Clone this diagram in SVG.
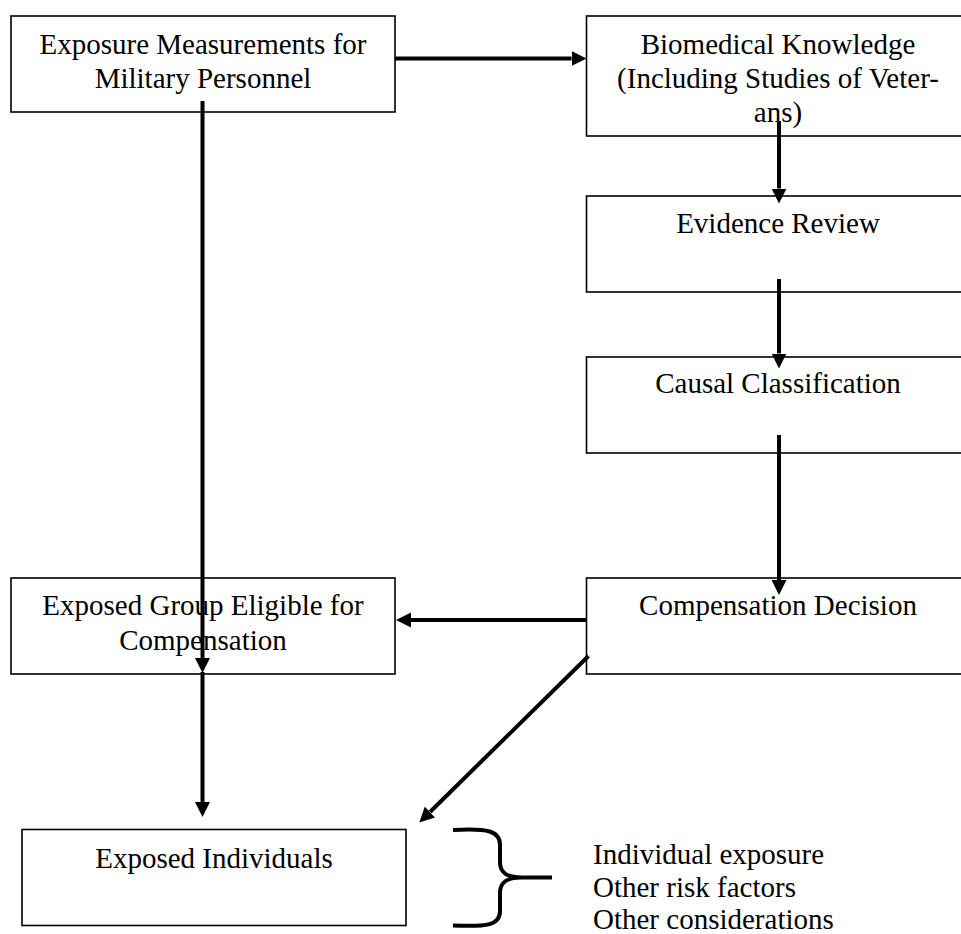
<svg xmlns="http://www.w3.org/2000/svg" width="961" height="934" viewBox="0 0 961 934">
  <style>
    .box { fill: #ffffff; stroke: #000000; stroke-width: 1.6; }
    .lbl { font-family: "Liberation Serif", "Times New Roman", serif; font-size: 29px; fill: #000000; text-anchor: middle; }
    .list { font-family: "Liberation Serif", "Times New Roman", serif; font-size: 29px; fill: #000000; }
    .conn { fill: none; stroke: #000000; stroke-width: 4; }
    .brace { fill: none; stroke: #000000; stroke-width: 4; stroke-linecap: butt; }
  </style>
  <defs>
    <marker id="arrow" markerUnits="userSpaceOnUse" viewBox="0 -8 16 16" markerWidth="16" markerHeight="16" refX="0" refY="0" orient="auto">
      <path d="M0,-7.5 L15,0 L0,7.5 Z" fill="#000000"/>
    </marker>
  </defs>

  <rect width="961" height="934" fill="#ffffff"/>

  <!-- nodes -->
  <g id="exposure-measurements">
    <rect class="box" x="11" y="16" width="384" height="96"/>
    <text class="lbl" x="203" y="54">Exposure Measurements for</text>
    <text class="lbl" x="203" y="88">Military Personnel</text>
  </g>

  <g id="biomedical-knowledge">
    <rect class="box" x="586.5" y="16" width="384" height="120"/>
    <text class="lbl" x="778" y="54">Biomedical Knowledge</text>
    <text class="lbl" x="778" y="88">(Including Studies of Veter-</text>
    <text class="lbl" x="778" y="122">ans)</text>
  </g>

  <g id="evidence-review">
    <rect class="box" x="586.5" y="196" width="384" height="96"/>
    <text class="lbl" x="778" y="233">Evidence Review</text>
  </g>

  <g id="causal-classification">
    <rect class="box" x="586.5" y="357" width="384" height="96"/>
    <text class="lbl" x="778" y="393">Causal Classification</text>
  </g>

  <g id="compensation-decision">
    <rect class="box" x="586.5" y="578" width="384" height="96"/>
    <text class="lbl" x="778" y="615">Compensation Decision</text>
  </g>

  <g id="exposed-group">
    <rect class="box" x="11" y="578" width="384" height="96"/>
    <text class="lbl" x="203" y="615">Exposed Group Eligible for</text>
    <text class="lbl" x="203" y="650">Compensation</text>
  </g>

  <g id="exposed-individuals">
    <rect class="box" x="22" y="829.5" width="384" height="96"/>
    <text class="lbl" x="214" y="868">Exposed Individuals</text>
  </g>

  <g id="individual-factors">
    <path class="brace" d="M453,830 C488,828 500,831 500,845 L500,862 C500,873 507,877.5 522,877.5 L552,877.5 M522,877.5 C507,877.5 500,882 500,893 L500,911 C500,925 488,927 453,925.5"/>
    <text class="list" x="593" y="864">Individual exposure</text>
    <text class="list" x="593" y="897">Other risk factors</text>
    <text class="list" x="593" y="929">Other considerations</text>
  </g>

  <!-- connectors -->
  <g id="connectors">
    <path class="conn" d="M395,58.5 H571.5" marker-end="url(#arrow)"/>
    <path class="conn" d="M202.5,101 V658" marker-end="url(#arrow)"/>
    <path class="conn" d="M202.5,672 V802" marker-end="url(#arrow)"/>
    <path class="conn" d="M779,121 V188.5" marker-end="url(#arrow)"/>
    <path class="conn" d="M779,279 V353.5" marker-end="url(#arrow)"/>
    <path class="conn" d="M779,435 V580" marker-end="url(#arrow)"/>
    <path class="conn" d="M586.5,620 H411" marker-end="url(#arrow)"/>
    <path class="conn" d="M588.5,656 L430,812" marker-end="url(#arrow)"/>
  </g>
</svg>
